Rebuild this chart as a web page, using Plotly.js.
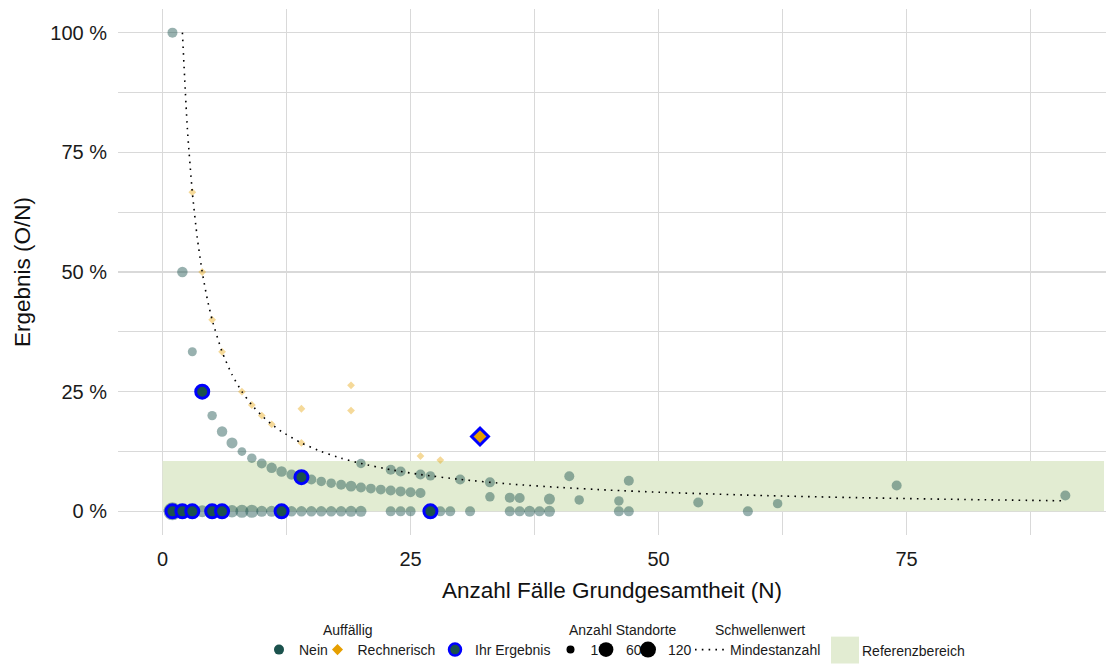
<!DOCTYPE html>
<html>
<head>
<meta charset="utf-8">
<script src="https://cdn.plot.ly/plotly-3.0.1.min.js"></script>
<style>html,body{margin:0;padding:0;background:#fff;}#chart{width:1106px;height:666px;}</style>
</head>
<body>
<div id="chart"></div>
<script>
// ---- Data ----
// "Nein" (not conspicuous) sites: N, result in %, number of sites (size)
const neinN     = [1,2,3,4,5,6,7,8,9,10,11,12,13,14,15,16,17,18,19,20,21,22,23,24,25,26,33,35,36,39,42,46,54,62,
                   20,23,24,26,27,30,33, 41,47,91,74,
                   1,2,3,4,5,6,7,8,9,10,11,12,13,14,15,16,17,18,19,20,23,24,25,27,28,29,31,35,36,37,38,39,46,47,59];
const neinPct   = [100,50,33.33,25,20,16.67,14.29,12.5,11.11,10,9.09,8.33,7.69,7.14,6.67,6.25,5.88,5.56,5.26,5,4.76,4.55,4.35,4.17,4,3.85,3.03,2.86,2.78,2.56,2.38,2.17,1.85,1.61,
                   10,8.7,8.33,7.69,7.41,6.67,6.06, 7.32,6.38,3.3,5.41,
                   0,0,0,0,0,0,0,0,0,0,0,0,0,0,0,0,0,0,0,0,0,0,0,0,0,0,0,0,0,0,0,0,0,0,0];
const neinCount = [9,12,4,9,6,12,16,3,6,8,12,12,10,9,9,6,6,8,14,9,8,8,9,9,9,9,6,9,9,16,6,6,9,6,
                   6,9,9,9,6,9,9, 9,9,9,9,
                   120,60,40,25,30,30,30,36,36,16,16,20,12,12,12,12,12,12,16,16,9,9,9,9,9,9,9,9,9,16,9,16,9,9,9];

// "Rechnerisch" (computationally conspicuous) sites
const rechN     = [3,4,5,6,8,9,10,11,14,14,19,19,26,28];
const rechPct   = [66.67,50,40,33.33,25,22.22,20,18.18,14.29,21.43,26.32,21.05,11.54,10.71];
const rechCount = [1,1,1,1,1,1,1,1,1,1,1,1,1,1];

// "Ihr Ergebnis" (your result)
const ihrN   = [1,2,3,4,5,6,12,14,27];
const ihrPct = [0,0,0,25,0,0,0,7.14,0];
const ihrRechN = [32];
const ihrRechPct = [15.63];

// Threshold curve "Mindestanzahl"
const mindN   = [2,2.5,3,3.5,4,4.5,5,6,7,8,9,10,11,12,14,16,18,20,23,26,30,35,40,45,50,60,70,80,91];
const mindPct = [100,80,66.67,57.14,50,44.44,40,33.33,28.57,25,22.22,20,18.18,16.67,14.29,12.5,11.11,10,8.7,7.69,6.67,5.71,5,4.44,4,3.33,2.86,2.5,2.2];

// Reference range band
const refX = [0,0,94.9,94.9,0];
const refY = [0,10.5,10.5,0,0];

// Size legend breaks
const sizeBreaks = [1,60,120];

// Axis ticks and minor grid
const xTicks = [0,25,50,75];
const xMinor = [12.5,37.5,62.5,87.5];
const yTicks = [0,25,50,75,100];
const yMinor = [12.5,37.5,62.5,87.5];

// ---- Styling ----
const TEAL = '#1b524d';
const ORANGE = '#E69F00';
const BLUE = '#0000ff';
const BAND = '#e2ecd2';
const GRID = '#d9d9d9';
const FONT = 'Liberation Sans, Arial, Helvetica, sans-serif';
function sz(c){ return 8 + 10*(Math.sqrt(c)-1)/(Math.sqrt(120)-1); }

const traces = [];
traces.push({type:'scatter', mode:'lines', x:refX, y:refY, fill:'toself', fillcolor:BAND,
  line:{width:0, color:BAND}, showlegend:false, hoverinfo:'skip'});
traces.push({type:'scatter', mode:'markers', x:neinN, y:neinPct, showlegend:false,
  marker:{symbol:'circle', color:TEAL, opacity:0.45, size:neinCount.map(sz), line:{width:0}}});
traces.push({type:'scatter', mode:'markers', x:rechN, y:rechPct, showlegend:false,
  marker:{symbol:'diamond', color:ORANGE, opacity:0.4, size:rechCount.map(c=>sz(c)*0.75), line:{width:0}}});
traces.push({type:'scatter', mode:'lines', x:mindN, y:mindPct, name:'Mindestanzahl', legend:'legend7',
  line:{color:'#000', width:1.6, dash:'1.6px,5.2px', shape:'spline', smoothing:0.6}, hoverinfo:'skip'});
traces.push({type:'scatter', mode:'markers', x:ihrN, y:ihrPct, showlegend:false,
  marker:{symbol:'circle', color:TEAL, size:13, line:{width:3, color:BLUE}}});
traces.push({type:'scatter', mode:'markers', x:ihrRechN, y:ihrRechPct, showlegend:false,
  marker:{symbol:'diamond', color:ORANGE, size:13, line:{width:3, color:BLUE}}});
// legend-only entries
traces.push({type:'scatter', mode:'markers', x:[null], y:[null], name:'Nein', legend:'legend',
  marker:{symbol:'circle', color:TEAL, size:10}});
traces.push({type:'scatter', mode:'markers', x:[null], y:[null], name:'Rechnerisch', legend:'legend2',
  marker:{symbol:'diamond', color:ORANGE, size:8.5}});
traces.push({type:'scatter', mode:'markers', x:[null], y:[null], name:'Ihr Ergebnis', legend:'legend3',
  marker:{symbol:'circle', color:TEAL, size:12, line:{width:2.5, color:BLUE}}});
sizeBreaks.forEach((b,i)=>{
  traces.push({type:'scatter', mode:'markers', x:[null], y:[null], name:String(b), legend:'legend'+(4+i),
    marker:{symbol:'circle', color:'#000', size:sz(b)}});
});

// plot area: x 118..1106 px, y 9..537 px
const PL=118, PW=988, PT=9, PH=528;
const px = v => (v-PL)/PW;
const py = v => (PT+PH-v)/PH;
const ITEM_Y = 653;
const legBase = {orientation:'h', yanchor:'middle', xanchor:'left', bgcolor:'rgba(0,0,0,0)',
  font:{family:FONT, size:14, color:'#1a1a1a'}, itemsizing:'trace', tracegroupgap:0, itemwidth:30, y:py(ITEM_Y)};
const legX = {legend:259, legend2:317.5, legend3:435, legend4:550.5, legend5:586, legend6:628, legend7:690};

const axisCommon = {showgrid:true, gridcolor:GRID, gridwidth:1.4, zeroline:false, showline:false,
  ticks:'outside', ticklen:6, tickcolor:'rgba(0,0,0,0)', tickfont:{family:FONT, size:20, color:'#1a1a1a'}};

const layout = {
  width:1106, height:666,
  margin:{l:118, r:0, t:9, b:129},
  paper_bgcolor:'#fff', plot_bgcolor:'#fff',
  font:{family:FONT, color:'#1a1a1a'},
  xaxis:Object.assign({}, axisCommon, {range:[-4.49,95.1], tickmode:'array', tickvals:xTicks, ticktext:xTicks.map(String),
    minor:{tickmode:'array', tickvals:xMinor, showgrid:true, gridcolor:GRID, gridwidth:1.1},
    title:{text:'Anzahl Fälle Grundgesamtheit (N)', font:{family:FONT, size:22.5, color:'#111'}, standoff:13}}),
  yaxis:Object.assign({}, axisCommon, {range:[-4.94,104.94], tickmode:'array', tickvals:yTicks, ticktext:yTicks.map(v=>v+' %'),
    minor:{tickmode:'array', tickvals:yMinor, showgrid:true, gridcolor:GRID, gridwidth:1.1},
    title:{text:'Ergebnis (O/N)', font:{family:FONT, size:22.5, color:'#111'}, standoff:13}}),
  showlegend:true,
  shapes:[
    {type:'rect', xref:'paper', yref:'paper', x0:px(831), x1:px(859), y0:py(666), y1:py(639),
     fillcolor:BAND, line:{width:0}, layer:'above'}
  ],
  annotations:[
    {text:'Auffällig', xref:'paper', yref:'paper', x:px(348), y:py(632), xanchor:'center', yanchor:'middle', showarrow:false, font:{family:FONT,size:14,color:'#1a1a1a'}},
    {text:'Anzahl Standorte', xref:'paper', yref:'paper', x:px(623), y:py(632), xanchor:'center', yanchor:'middle', showarrow:false, font:{family:FONT,size:14,color:'#1a1a1a'}},
    {text:'Schwellenwert', xref:'paper', yref:'paper', x:px(760), y:py(632), xanchor:'center', yanchor:'middle', showarrow:false, font:{family:FONT,size:14,color:'#1a1a1a'}},
    {text:'Referenzbereich', xref:'paper', yref:'paper', x:px(860), y:py(ITEM_Y), xanchor:'left', yanchor:'middle', showarrow:false, font:{family:FONT,size:14,color:'#1a1a1a'}}
  ]
};
Object.keys(legX).forEach(k=>{ layout[k] = Object.assign({}, legBase, {x:px(legX[k])}); });

Plotly.newPlot('chart', traces, layout, {staticPlot:true, displayModeBar:false});
</script>
</body>
</html>
